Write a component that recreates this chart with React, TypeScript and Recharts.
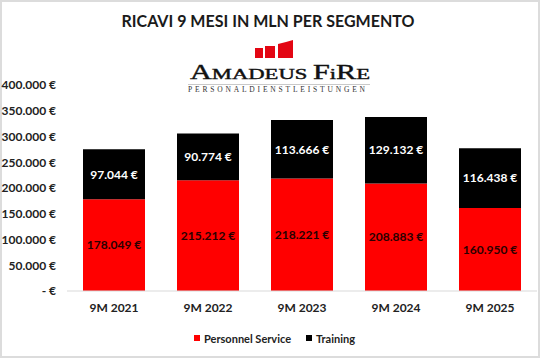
import React from 'react';
import {
  BarChart,
  Bar,
  XAxis,
  YAxis,
  Legend,
  LabelList
} from 'recharts';

const periods = ['9M 2021', '9M 2022', '9M 2023', '9M 2024', '9M 2025'];
const personnelService = [178049, 215212, 218221, 208883, 160950];
const training = [97044, 90774, 113666, 129132, 116438];
const yTicks = [0, 50000, 100000, 150000, 200000, 250000, 300000, 350000, 400000];

const FONT = 'Lato, "Open Sans", sans-serif';

const data = periods.map((p, i) => ({
  name: p,
  personnel: personnelService[i],
  training: training[i]
}));

// formato italiano: 178.049 € (spazio non separabile, altrimenti va a capo)
const euro = (v: number) => {
  if (v === 0) return '-\u00A0€';
  return String(v).replace(/\B(?=(\d{3})+(?!\d))/g, '.') + '\u00A0€';
};

const renderLegend = () => (
  <div
    style={{
      height: 34,
      display: 'flex',
      justifyContent: 'center',
      alignItems: 'center',
      gap: 15,
      fontFamily: FONT,
      fontWeight: 700,
      fontSize: 11,
      color: '#222',
      paddingLeft: 12
    }}
  >
    <div style={{ display: 'flex', alignItems: 'center' }}>
      <div style={{ width: 6, height: 6, background: '#FF0000', marginRight: 4 }} />
      <span>Personnel Service</span>
    </div>
    <div style={{ display: 'flex', alignItems: 'center' }}>
      <div style={{ width: 6, height: 6, background: '#000000', marginRight: 4 }} />
      <span>Training</span>
    </div>
  </div>
);

const Header = () => (
  <svg
    width={540}
    height={100}
    style={{ position: 'absolute', left: 0, top: 0, pointerEvents: 'none' }}
  >
    <text
      x={268}
      y={27}
      textAnchor="middle"
      fontFamily={FONT}
      fontWeight={700}
      fontSize={17}
      fill="#1a1a1a"
      textLength={293}
      lengthAdjust="spacingAndGlyphs"
    >
      RICAVI 9 MESI IN MLN PER SEGMENTO
    </text>
    {/* logo */}
    <polygon points="255,48 263,48 263,58 255,58" fill="#E30613" />
    <polygon points="265,46 275,46 275,58 265,58" fill="#E30613" />
    <polygon points="278,44 286,42 293,40 293,58 278,58" fill="#E30613" />
    <text
      x={190}
      y={79}
      fontFamily='"Liberation Serif", "DejaVu Serif", serif'
      fill="#111"
      stroke="#111"
      strokeWidth={0.4}
      textLength={180}
      lengthAdjust="spacingAndGlyphs"
    >
      <tspan fontSize={20}>A</tspan>
      <tspan fontSize={15}>MADEUS </tspan>
      <tspan fontSize={20}>F</tspan>
      <tspan fontSize={15}>i</tspan>
      <tspan fontSize={20}>R</tspan>
      <tspan fontSize={15}>E</tspan>
    </text>
    <line x1={188} x2={370} y1={84.5} y2={84.5} stroke="#bbb" strokeWidth={0.8} />
    <text
      x={188}
      y={92}
      fontFamily='"Liberation Serif", "DejaVu Serif", serif'
      fontSize={7.5}
      fill="#333"
      textLength={177}
      lengthAdjust="spacing"
    >
      PERSONALDIENSTLEISTUNGEN
    </text>
  </svg>
);

const labelStyle = { fontFamily: FONT, fontWeight: 700, fontSize: 12 };

export default function App() {
  return (
    <div
      style={{
        position: 'absolute',
        left: 0,
        top: 0,
        width: 540,
        height: 358,
        background: '#fff',
        boxSizing: 'border-box',
        border: '2px solid #dcdcdc'
      }}
    >
      <div style={{ position: 'absolute', left: -2, top: -2 }}>
        <BarChart
          width={540}
          height={358}
          data={data}
          margin={{ top: 85, right: 3, bottom: 3, left: 0 }}
          barSize={62}
        >
          <XAxis
            dataKey="name"
            axisLine={{ stroke: '#D9D9D9' }}
            tickLine={false}
            tickMargin={6}
            height={30}
            tick={{ fontFamily: FONT, fontWeight: 700, fontSize: 12, fill: '#222' }}
          />
          <YAxis
            width={67}
            domain={[0, 400000]}
            ticks={yTicks}
            interval={0}
            axisLine={false}
            tickLine={false}
            tickMargin={5}
            tickFormatter={euro}
            tick={{ fontFamily: FONT, fontWeight: 700, fontSize: 12, fill: '#222' }}
          />
          <Legend verticalAlign="bottom" height={34} content={renderLegend} />
          <Bar
            dataKey="personnel"
            name="Personnel Service"
            stackId="a"
            fill="#FF0000"
            isAnimationActive={false}
          >
            <LabelList
              dataKey="personnel"
              position="center"
              formatter={(v: any) => euro(Number(v))}
              fill="#2a0000"
              style={{ ...labelStyle, fill: '#2a0000' }}
            />
          </Bar>
          <Bar
            dataKey="training"
            name="Training"
            stackId="a"
            fill="#000000"
            isAnimationActive={false}
          >
            <LabelList
              dataKey="training"
              position="center"
              formatter={(v: any) => euro(Number(v))}
              fill="#ffffff"
              style={{ ...labelStyle, fill: '#ffffff' }}
            />
          </Bar>
        </BarChart>
      </div>
      <div style={{ position: 'absolute', left: -2, top: -2 }}>
        <Header />
      </div>
    </div>
  );
}
